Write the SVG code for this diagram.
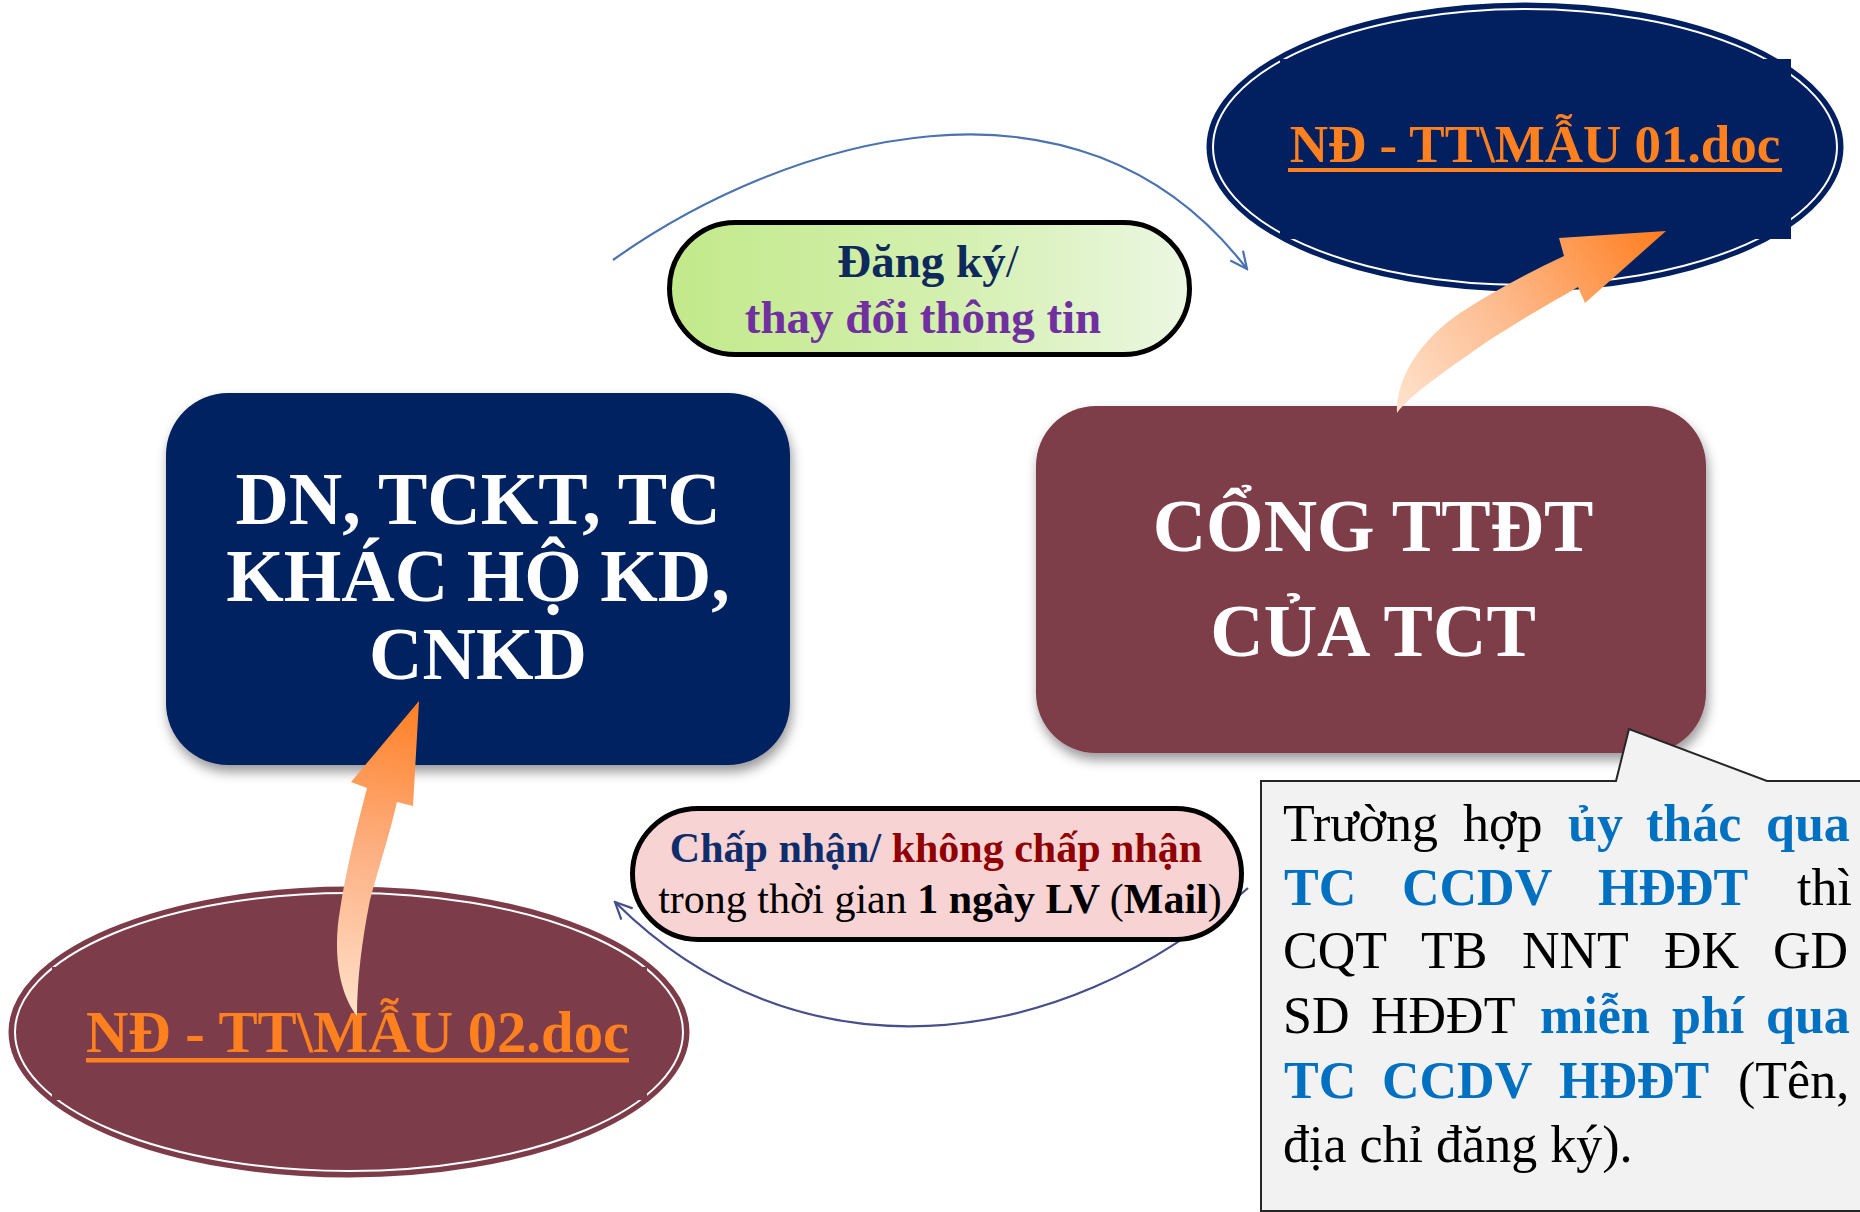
<svg xmlns="http://www.w3.org/2000/svg" width="1860" height="1212" viewBox="0 0 1860 1212">
<defs>
  <style>
    .serif{font-family:"Liberation Serif","Times New Roman",serif;}
    .b{font-weight:bold;}
    .white{fill:#FFFFFF;}
    .orange{fill:#FF801F;}
    .blue{fill:#0070C0;font-weight:bold;}
    .blk{fill:#000000;}
    .maroonfill{fill:#7D3C4A;}
    .navyfill{fill:#022060;}
  </style>
  <filter id="shadow" x="-10%" y="-10%" width="125%" height="130%">
    <feDropShadow dx="2" dy="7" stdDeviation="6" flood-color="#000" flood-opacity="0.4"/>
  </filter>
  <linearGradient id="gGreen" x1="0" y1="0" x2="1" y2="0">
    <stop offset="0" stop-color="#C2E98A"/>
    <stop offset="0.55" stop-color="#D4F0B0"/>
    <stop offset="1" stop-color="#ECF7E2"/>
  </linearGradient>
  <linearGradient id="gArrowTR" gradientUnits="userSpaceOnUse" x1="1400" y1="410" x2="1660" y2="235">
    <stop offset="0" stop-color="#FFE2CC"/>
    <stop offset="0.45" stop-color="#FDBB8E"/>
    <stop offset="1" stop-color="#FF7F22"/>
  </linearGradient>
  <linearGradient id="gArrowBL" gradientUnits="userSpaceOnUse" x1="356" y1="1012" x2="419" y2="701">
    <stop offset="0" stop-color="#FFE0C8"/>
    <stop offset="0.5" stop-color="#FDB083"/>
    <stop offset="1" stop-color="#FF7F22"/>
  </linearGradient>
  <marker id="arrBlue" viewBox="0 0 20 20" refX="18" refY="10" markerWidth="20" markerHeight="20" markerUnits="userSpaceOnUse" orient="auto">
    <path d="M1,2 L18,10 L1,18" fill="none" stroke="#4A73B0" stroke-width="2.2"/>
  </marker>
  <marker id="arrNavy" viewBox="0 0 20 20" refX="18" refY="10" markerWidth="20" markerHeight="20" markerUnits="userSpaceOnUse" orient="auto">
    <path d="M1,2 L18,10 L1,18" fill="none" stroke="#464E8C" stroke-width="2.2"/>
  </marker>
</defs>

<rect x="0" y="0" width="1860" height="1212" fill="#FFFFFF"/>

<!-- Connectors (arcs) -->
<g id="connectors">
  <path id="arc-top" d="M613,260 C783,139 1077,48 1247,269" fill="none" stroke="#4A73B0" stroke-width="2.2" marker-end="url(#arrBlue)"/>
  <path id="arc-bottom" d="M1248,888 C1059,1057 795,1082 615,902" fill="none" stroke="#464E8C" stroke-width="2.2" marker-end="url(#arrNavy)"/>
</g>

<!-- Left navy box -->
<g id="node-dn">
  <rect x="166" y="393" width="624" height="372" rx="62" ry="62" class="navyfill" filter="url(#shadow)"/>
  <text class="serif b white" font-size="74" text-anchor="middle"><tspan x="478" y="524">DN, TCKT, TC</tspan><tspan x="478" y="601">KHÁC HỘ KD,</tspan><tspan x="478" y="679">CNKD</tspan></text>
</g>

<!-- Maroon box -->
<g id="node-cong">
  <rect x="1036" y="406" width="670" height="347" rx="60" ry="60" class="maroonfill" filter="url(#shadow)"/>
  <text class="serif b white" font-size="74" text-anchor="middle"><tspan x="1373" y="551">CỔNG TTĐT</tspan><tspan x="1373" y="656">CỦA TCT</tspan></text>
</g>

<!-- Top-right ellipse -->
<g id="node-mau01">
  <ellipse cx="1525" cy="147" rx="317" ry="143" fill="#022060" stroke="#022060" stroke-width="3"/>
  <ellipse cx="1525" cy="147" rx="312" ry="138" fill="none" stroke="#FFFFFF" stroke-width="2"/>
  <rect x="1280" y="59" width="511" height="180" fill="#022060"/>
  <text class="serif b orange" font-size="53" x="1535" y="162" text-anchor="middle">NĐ - TT\MẪU 01.doc</text>
  <rect x="1288" y="168" width="494" height="4" fill="#FF801F"/>
</g>

<!-- Bottom-left ellipse -->
<g id="node-mau02">
  <ellipse cx="349" cy="1032" rx="339" ry="144" fill="#7D3C4A" stroke="#7D3C4A" stroke-width="3"/>
  <ellipse cx="349" cy="1032" rx="334" ry="139" fill="none" stroke="#FFFFFF" stroke-width="2"/>
  <rect x="52" y="967" width="595" height="133" fill="#7D3C4A"/>
  <text class="serif b orange" font-size="58.5" x="86" y="1052" textLength="543" lengthAdjust="spacingAndGlyphs">NĐ - TT\MẪU 02.doc</text>
  <rect x="86" y="1058" width="543" height="4.5" fill="#FF801F"/>
</g>

<!-- Callout note -->
<g id="node-note">
  <path d="M1261,781 L1616,781 L1629,729 L1767,781 L1864,781 L1864,1211 L1261,1211 Z" fill="#F2F2F2" stroke="#262626" stroke-width="2"/>
  <text class="serif blk" font-size="52" y="841"><tspan x="1283">Trường</tspan><tspan x="1463">hợp</tspan><tspan class="blue" x="1568">ủy</tspan><tspan class="blue" x="1646">thác</tspan><tspan class="blue" x="1766">qua</tspan></text>
  <text class="serif blk" font-size="52" y="905"><tspan class="blue" x="1284">TC</tspan><tspan class="blue" x="1402">CCDV</tspan><tspan class="blue" x="1598">HĐĐT</tspan><tspan x="1797">thì</tspan></text>
  <text class="serif blk" font-size="52" y="968"><tspan x="1283">CQT</tspan><tspan x="1421">TB</tspan><tspan x="1522">NNT</tspan><tspan x="1664">ĐK</tspan><tspan x="1773">GD</tspan></text>
  <text class="serif blk" font-size="52" y="1033"><tspan x="1283">SD</tspan><tspan x="1371">HĐĐT</tspan><tspan class="blue" x="1540">miễn</tspan><tspan class="blue" x="1672">phí</tspan><tspan class="blue" x="1766">qua</tspan></text>
  <text class="serif blk" font-size="52" y="1098"><tspan class="blue" x="1284">TC</tspan><tspan class="blue" x="1382">CCDV</tspan><tspan class="blue" x="1559">HĐĐT</tspan><tspan x="1738">(Tên,</tspan></text>
  <text class="serif blk" font-size="52" x="1283" y="1162">địa chỉ đăng ký).</text>
</g>

<!-- Block arrows (connectors) -->
<g id="connectors-block">
  <path id="arrow-tr" d="M1397,413 C1395,380 1420,340 1460,313 C1495,290 1530,272 1564,256 L1559,238 L1666,231 L1585,303 L1578,287 C1540,309 1500,332 1475,350 C1440,375 1410,395 1397,413 Z" fill="url(#gArrowTR)"/>
  <path id="arrow-bl" d="M357,1016 C338,992 333,950 340,910 C346,870 356,830 367,788 L351,782 L419,701 L413,806 L397,802 C388,840 378,870 370,900 C362,940 357,980 357,1016 Z" fill="url(#gArrowBL)"/>
</g>

<!-- Green label pill -->
<g id="label-dangky">
  <rect x="669.5" y="222.5" width="520" height="132" rx="66" ry="66" fill="url(#gGreen)" stroke="#000000" stroke-width="5"/>
  <text class="serif b" font-size="47" x="928" y="277" text-anchor="middle"><tspan fill="#0E2A5C">Đăng ký</tspan><tspan fill="#0E2A5C" font-weight="normal">/</tspan></text>
  <text class="serif b" font-size="47" x="923" y="333" text-anchor="middle" fill="#7030A0">thay đổi thông tin</text>
</g>

<!-- Pink label pill -->
<g id="label-chapnhan">
  <rect x="632.5" y="808.5" width="609" height="131" rx="65.5" ry="65.5" fill="#F8D3D4" stroke="#000000" stroke-width="5"/>
  <text class="serif b" font-size="42" x="936" y="862" text-anchor="middle"><tspan fill="#0F2D6B">Chấp nhận/ </tspan><tspan fill="#900000">không chấp nhận</tspan></text>
  <text class="serif blk" font-size="42" x="940" y="913" text-anchor="middle">trong thời gian <tspan font-weight="bold">1 ngày LV </tspan>(<tspan font-weight="bold">Mail</tspan>)</text>
</g>
</svg>
